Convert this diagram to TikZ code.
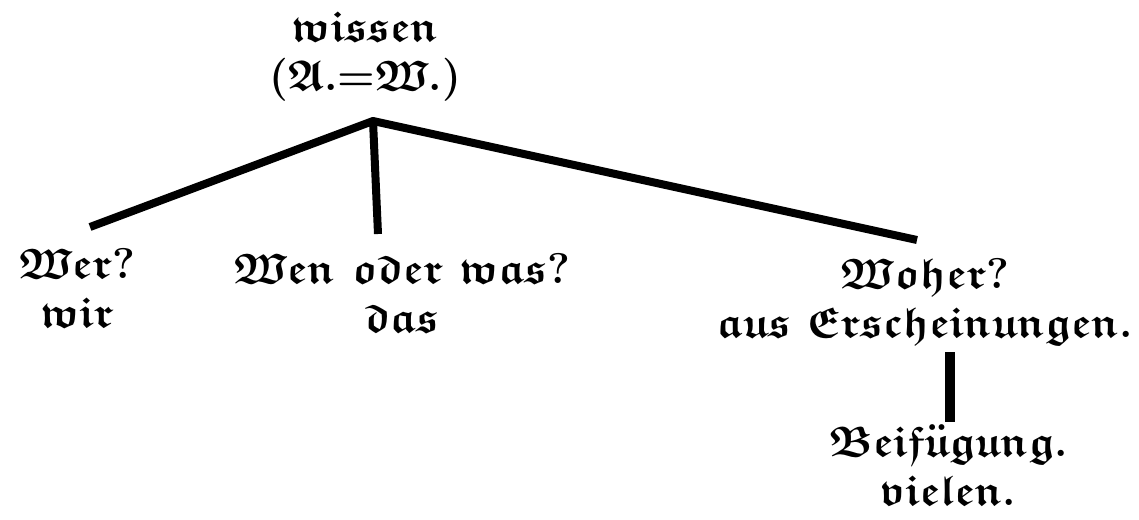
\RequirePackage{fix-cm}
\documentclass[tikz,border=0pt]{standalone}
\usepackage{amsfonts}
\usetikzlibrary{positioning}
\DeclareFontFamily{U}{euf}{}
\DeclareFontShape{U}{euf}{m}{n}{<->eufm10}{}
\DeclareFontShape{U}{euf}{b}{n}{<->eufb10}{}
\newcommand{\fr}[1]{$\mathfrak{#1}$}
\tikzset{every node/.style={font=\fontsize{43}{49}\selectfont\bfseries\boldmath, align=center, inner sep=0pt}, % Fraktur words in all labels
branch/.style={line width=8pt, line join=round}
}

\begin{document}
\begin{tikzpicture}[x=1pt,y=-1pt]
    \useasboundingbox (0,0) rectangle (1139,519);

    \node[anchor=base] (wissen) at (365,90) {\fr{wissen}\\(\fr{A}.=\fr{W}.)};
    \node[anchor=base] (wer) at (77,327) {\fr{Wer}?\\\fr{wir}};
    \node[anchor=base] (wen) at (402,332) {\fr{Wen} \fr{oder} \fr{was}?\\\fr{das}};
    \node[anchor=base] (woher) at (925,337) {\fr{Woher}?\\\fr{aus} \fr{Erscheinungen}.};
    \node[anchor=base] (beif) at (948,505) {\fr{Beif}$\ddot{\mathfrak{u}}$\fr{gung}.\\\fr{vielen}.};

    \coordinate (top) at (373,121);
    \coordinate (wer-end) at (90,227);
    \coordinate (wen-end) at (378,234);
    \coordinate (woher-end) at (917,240);
    \coordinate (link) at (950,352);

    \draw[branch] (wer-end) -- (top) -- (woher-end);
    \draw[branch] (top) -- (wen-end);
    \draw[branch,line width=10pt,shorten >=3pt] (link) -- (link |- beif.north);
\end{tikzpicture}
\end{document}
